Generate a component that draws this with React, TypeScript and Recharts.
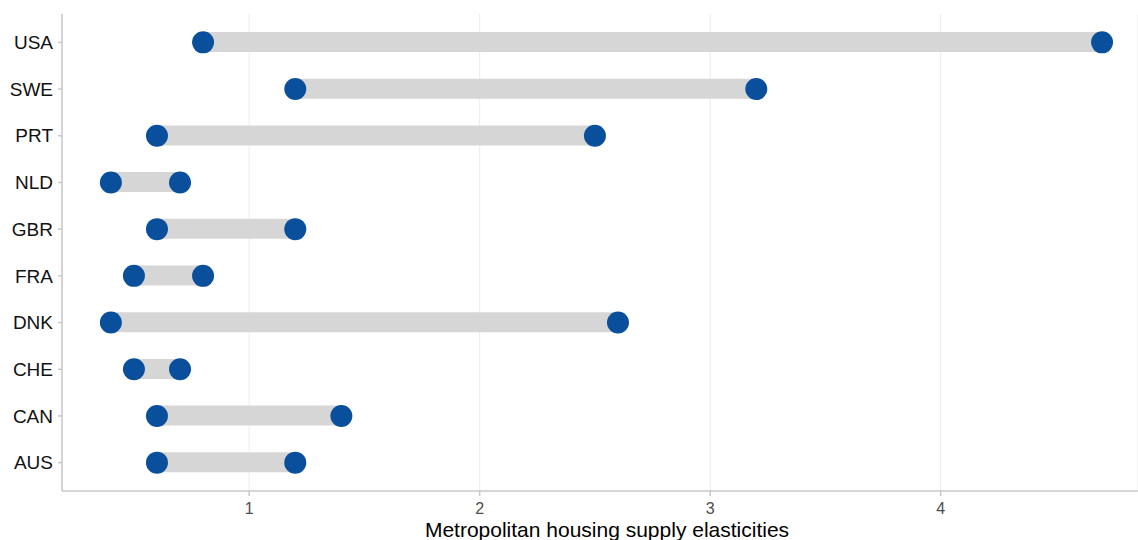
import React from 'react';
import { ComposedChart, Bar, Line, XAxis, YAxis, CartesianGrid } from 'recharts';

// Metropolitan housing supply elasticities: range per country (low / high estimate)
const countries = ['USA', 'SWE', 'PRT', 'NLD', 'GBR', 'FRA', 'DNK', 'CHE', 'CAN', 'AUS'];
const lowValues = [0.8, 1.2, 0.6, 0.4, 0.6, 0.5, 0.4, 0.5, 0.6, 0.6];
const highValues = [4.7, 3.2, 2.5, 0.7, 1.2, 0.8, 2.6, 0.7, 1.4, 1.2];
const xTicks = [1, 2, 3, 4];

const data = countries.map((country, i) => ({
  country,
  low: lowValues[i],
  high: highValues[i],
  range: [lowValues[i], highValues[i]],
}));

const BLUE = '#0A4F9C';
const font = '"Liberation Sans", Arial, sans-serif';

const App: React.FC = () => {
  return (
    <div style={{ position: 'absolute', left: 0, top: 0, width: 1138, height: 540, background: '#fff' }}>
      <ComposedChart
        width={1138}
        height={540}
        data={data}
        layout="vertical"
        margin={{ top: 14, right: 0, bottom: 0, left: 0 }}
        style={{ fontFamily: font }}
      >
        <CartesianGrid horizontal={false} stroke="#EBEBEB" strokeWidth={1} />
        <XAxis
          type="number"
          domain={[0.188, 4.856]}
          ticks={xTicks}
          allowDataOverflow
          height={49}
          stroke="#C8C8C8"
          strokeWidth={1.5}
          tickSize={5}
          tickMargin={7}
          tick={{ fill: '#4D4D4D', fontSize: 16, fontFamily: font }}
          label={{
            value: 'Metropolitan housing supply elasticities',
            position: 'insideBottom',
            offset: 3,
            dx: 7,
            fill: '#000',
            fontSize: 21,
            fontFamily: font,
          }}
        />
        <YAxis
          type="category"
          dataKey="country"
          width={62}
          padding={{ top: 5, bottom: 5 }}
          stroke="#C8C8C8"
          strokeWidth={1.5}
          tickSize={4}
          tickMargin={5}
          tick={{ fill: '#111', fontSize: 19, fontFamily: font }}
        />
        <Bar dataKey="range" fill="#D6D6D6" barSize={20} isAnimationActive={false} />
        <Line
          dataKey="low"
          stroke="none"
          dot={{ r: 11, fill: BLUE, stroke: 'none' }}
          activeDot={false}
          isAnimationActive={false}
        />
        <Line
          dataKey="high"
          stroke="none"
          dot={{ r: 11, fill: BLUE, stroke: 'none' }}
          activeDot={false}
          isAnimationActive={false}
        />
      </ComposedChart>
    </div>
  );
};

export default App;
